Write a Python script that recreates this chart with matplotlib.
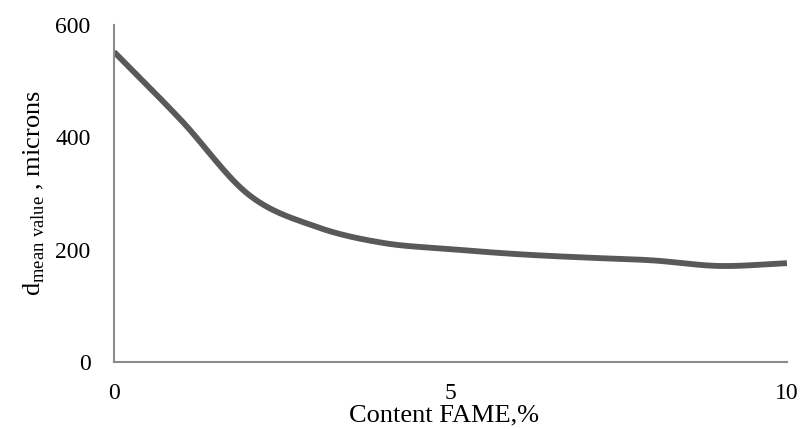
import numpy as np
import matplotlib
matplotlib.use("Agg")
import matplotlib.pyplot as plt

plt.rcParams['font.family'] = ['Liberation Serif', 'DejaVu Serif']
plt.rcParams['mathtext.fontset'] = 'custom'
plt.rcParams['mathtext.rm'] = 'Liberation Serif'

fame = [0, 1, 2, 3, 4, 5, 6, 7, 8, 9, 10]
d_mean = [552, 430, 298, 241, 212, 201, 192, 186, 181, 171, 176]
x_ticks = [0, 5, 10]
y_ticks = [0, 200, 400, 600]


def smooth(xs, ys, n=30):
    # catmull-rom, roughly like the spreadsheet "smoothed line"
    xs = np.asarray(xs, float)
    ys = np.asarray(ys, float)
    px = np.concatenate([[2 * xs[0] - xs[1]], xs, [2 * xs[-1] - xs[-2]]])
    py = np.concatenate([[2 * ys[0] - ys[1]], ys, [2 * ys[-1] - ys[-2]]])
    outx, outy = [], []
    t = np.linspace(0, 1, n, endpoint=False)
    for i in range(1, len(px) - 2):
        for p, out in ((px, outx), (py, outy)):
            p0, p1, p2, p3 = p[i - 1], p[i], p[i + 1], p[i + 2]
            out.extend(0.5 * (2 * p1 + (-p0 + p2) * t
                              + (2 * p0 - 5 * p1 + 4 * p2 - p3) * t ** 2
                              + (-p0 + 3 * p1 - 3 * p2 + p3) * t ** 3))
    outx.append(xs[-1])
    outy.append(ys[-1])
    return outx, outy


fig = plt.figure(figsize=(8.03, 4.29), dpi=100)
ax = fig.add_axes([0.142, 0.156, 0.838, 0.786])

sx, sy = smooth(fame, d_mean)
ax.plot(sx, sy, color='#595959', linewidth=4.2, solid_capstyle='butt')

ax.set_xlim(0, 10)
ax.set_ylim(0, 600)
ax.set_xticks(x_ticks)
ax.set_yticks(y_ticks)
ax.tick_params(axis='both', length=0, labelsize=17)
ax.tick_params(axis='x', pad=15)
ax.tick_params(axis='y', pad=17)

for s in ['top', 'right']:
    ax.spines[s].set_visible(False)
for s in ['left', 'bottom']:
    ax.spines[s].set_color('#8c8c8c')
    ax.spines[s].set_linewidth(1.5)

ax.set_xlabel('Content FAME,%', fontsize=19)
ax.xaxis.set_label_coords(0.49, -0.125, transform=ax.transAxes)
ax.xaxis.label.set_va('top')
ax.set_ylabel(r'd$_{\mathrm{mean\ value}}$ , microns', fontsize=19, labelpad=6)

fig.savefig('out.png', dpi=100)
